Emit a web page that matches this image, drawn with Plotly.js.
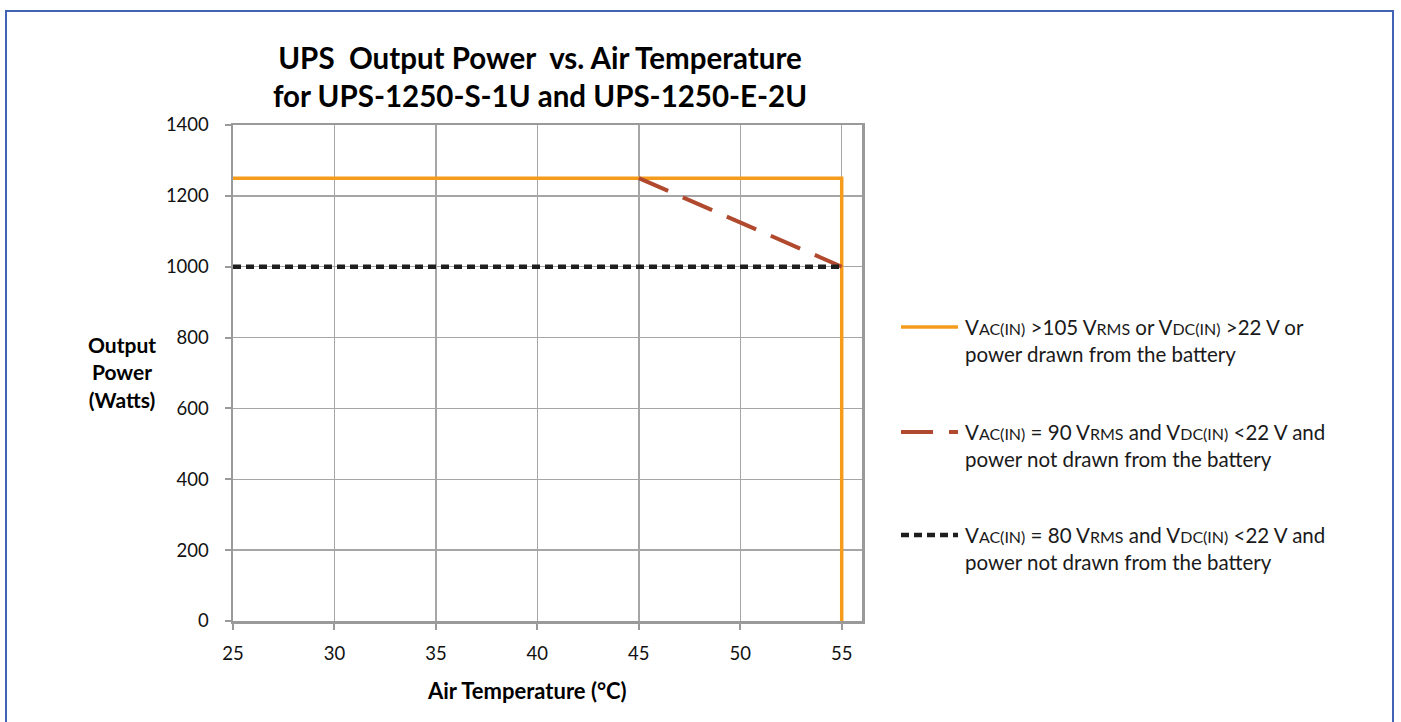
<!DOCTYPE html>
<html>
<head>
<meta charset="utf-8">
<script src="https://cdn.plot.ly/plotly-3.0.1.min.js"></script>
<style>
  html, body { margin: 0; padding: 0; background: #ffffff; }
  #wrap { position: relative; width: 1401px; height: 722px; overflow: hidden; }
  #chart { position: absolute; left: 0; top: 0; width: 1401px; height: 722px; }
  #frame { position: absolute; left: 5px; top: 10px; width: 1389px; height: 730px;
           border: 2px solid #4262B4; pointer-events: none; box-sizing: border-box; }
</style>
</head>
<body>
<div id="wrap">
  <div id="chart"></div>
  <div id="frame"></div>
</div>
<script>
// ---- data ----
const tempHigh   = [25, 55, 55];
const powerHigh  = [1250, 1250, 0];
const tempMid    = [45, 55];
const powerMid   = [1250, 1000];
const tempLow    = [25, 55];
const powerLow   = [1000, 1000];
const xTicks     = [25, 30, 35, 40, 45, 50, 55];
const yTicks     = [0, 200, 400, 600, 800, 1000, 1200, 1400];

const sub = s => '<span style="font-size:16px">' + s + '</span>';
const seriesNames = [
  'V' + sub('AC(IN)') + ' &gt;105 V' + sub('RMS') + ' or V' + sub('DC(IN)') + ' &gt;22 V or<br>power drawn from the battery',
  'V' + sub('AC(IN)') + ' = 90 V' + sub('RMS') + ' and V' + sub('DC(IN)') + ' &lt;22 V and<br>power not drawn from the battery',
  'V' + sub('AC(IN)') + ' = 80 V' + sub('RMS') + ' and V' + sub('DC(IN)') + ' &lt;22 V and<br>power not drawn from the battery'
];
const colors = ['#F59C1D', '#B0492E', '#1E1E1E'];
const dashes = ['solid', '32px,16px', '8px,5px'];

const FONT = 'Lato, "Open Sans", sans-serif';

const traces = [
  { x: tempHigh, y: powerHigh, name: seriesNames[0], mode: 'lines',
    line: { color: colors[0], width: 3.5, dash: dashes[0] }, showlegend: false },
  { x: tempMid, y: powerMid, name: seriesNames[1], mode: 'lines',
    line: { color: colors[1], width: 4, dash: dashes[1] }, showlegend: false },
  { x: tempLow, y: powerLow, name: seriesNames[2], mode: 'lines',
    line: { color: colors[2], width: 4.5, dash: dashes[2] }, showlegend: false }
];

// plot area: x 233..862 px, y 125..621 px
const L = 233, R = 862, T = 125, B = 621;
const W = 1401, H = 722;
const px2x = p => (p - L) / (R - L);
const px2y = p => (B - p) / (B - T);

const legendRows = [327, 432, 535];
const shapes = legendRows.map((py, i) => ({
  type: 'line', xref: 'paper', yref: 'paper',
  x0: px2x(901), x1: px2x(958), y0: px2y(py), y1: px2y(py),
  line: { color: colors[i], width: i === 0 ? 3.5 : (i === 1 ? 4 : 4.5), dash: dashes[i] }
}));

const annotations = legendRows.map((py, i) => ({
  xref: 'paper', yref: 'paper', x: px2x(963), y: px2y(py - 14),
  xanchor: 'left', yanchor: 'top', align: 'left', showarrow: false,
  text: seriesNames[i], font: { family: FONT, size: 20.5, color: '#1a1a1a' }
}));

annotations.push({
  xref: 'paper', yref: 'paper', x: px2x(122), y: px2y(372),
  xanchor: 'center', yanchor: 'middle', align: 'center', showarrow: false,
  text: '<b>Output<br>Power<br>(Watts)</b>', font: { family: FONT, size: 21, color: '#000' }
});
annotations.push({
  xref: 'paper', yref: 'paper', x: px2x(527), y: px2y(690),
  xanchor: 'center', yanchor: 'middle', showarrow: false,
  text: '<b>Air Temperature (°C)</b>', font: { family: FONT, size: 22, color: '#000' }
});

const axisCommon = {
  showline: true, linecolor: '#9A9A9A', linewidth: 2.5, mirror: true,
  showgrid: true, gridcolor: '#A6A6A6', gridwidth: 1.5,
  ticks: 'outside', ticklen: 6, tickcolor: '#9A9A9A', tickwidth: 2,
  zeroline: false, tickfont: { family: FONT, size: 18.5, color: '#111' }
};

const layout = {
  width: W, height: H,
  margin: { l: L, r: W - R, t: T, b: H - B, pad: 0 },
  paper_bgcolor: '#ffffff', plot_bgcolor: '#ffffff',
  showlegend: false,
  title: {
    text: '<b>UPS  Output Power  vs. Air Temperature<br>for UPS-1250-S-1U and UPS-1250-E-2U</b>',
    font: { family: FONT, size: 29.5, color: '#000' },
    xref: 'container', yref: 'container', x: 540 / W, y: 1 - 69 / H,
    xanchor: 'center', yanchor: 'middle'
  },
  xaxis: Object.assign({}, axisCommon, {
    range: [25, 56], tickvals: xTicks, ticktext: xTicks.map(String), ticklabelstandoff: 8
  }),
  yaxis: Object.assign({}, axisCommon, {
    range: [0, 1400], tickvals: yTicks, ticktext: yTicks.map(String), ticklabelstandoff: 12
  }),
  shapes: shapes,
  annotations: annotations
};

Plotly.newPlot('chart', traces, layout, { staticPlot: true, displayModeBar: false });
</script>
</body>
</html>
